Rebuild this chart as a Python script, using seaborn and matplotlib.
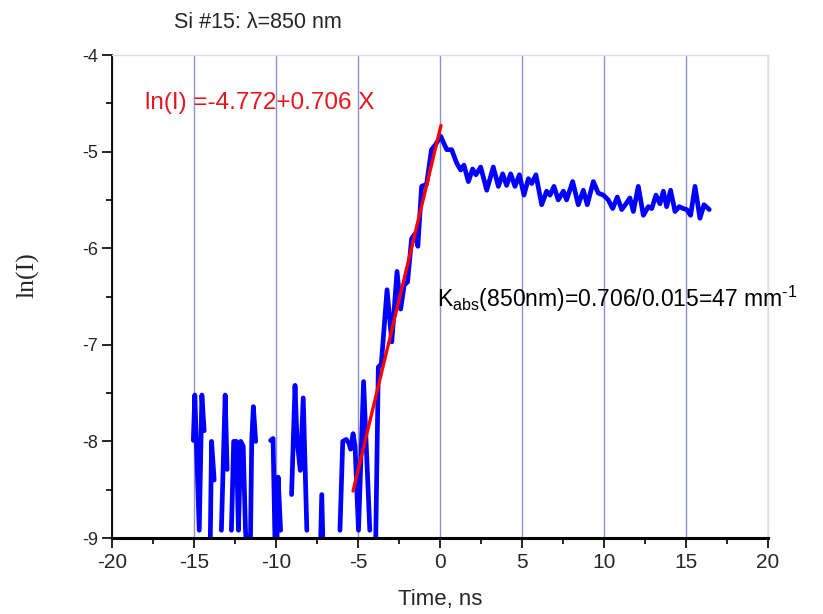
import numpy as np
import pandas as pd
import matplotlib
matplotlib.use("Agg")
import matplotlib.pyplot as plt
from matplotlib.ticker import MultipleLocator
import seaborn as sns

nan = np.nan
# Measured signal (ln of intensity) vs time in ns; NaN marks a break in the trace
time_ns = [
    -15.04, -14.95, -14.68, -14.52, -14.38, nan,
    -14.05, -13.93, -13.77, nan,
    -13.33, -13.10, -12.98, nan,
    -12.72, -12.58, -12.42, -12.29, -12.15, -12.00, -11.86, -11.60, -11.48, -11.38, -11.24, nan,
    -10.33, -10.18, -10.00, -9.87, -9.72, nan,
    -9.05, -8.84, -8.72, -8.52, -8.34, -8.12, nan,
    -7.36, -7.21, -7.06, nan,
    -6.10, -5.93, -5.72, -5.55, -5.45, -5.30, -5.18, -4.97, -4.66, -4.28, nan,
    -3.97, -3.76, -3.58, -3.23, -2.94, -2.62, -2.40, -2.18, -1.98, -1.73, -1.52, -1.35,
    -1.12, -0.82, -0.52, -0.28,
    0.04, 0.41, 0.71, 1.02, 1.26, 1.46, 1.73, 1.99, 2.19, 2.48, 2.85, 3.25, 3.56, 3.82,
    4.06, 4.31, 4.57, 4.84, 5.12, 5.39, 5.59, 5.85, 6.20, 6.50, 6.71, 6.95, 7.21, 7.52,
    7.72, 8.09, 8.43, 8.74, 8.98, 9.35, 9.65, 9.96, 10.26, 10.53, 10.81, 11.08, 11.34,
    11.58, 11.79, 12.09, 12.40, 12.70, 12.91, 13.17, 13.41, 13.62, 13.82, 14.06, 14.33,
    14.59, 14.84, 15.04, 15.28, 15.55, 15.85, 16.10, 16.42,
]
ln_I = [
    -7.99, -7.52, -8.92, -7.52, -7.89, nan,
    -9.60, -8.00, -8.40, nan,
    -8.92, -7.52, -8.29, nan,
    -8.92, -8.00, -8.00, -8.92, -8.00, -8.05, -8.92, -9.60, -8.00, -7.64, -8.00, nan,
    -7.99, -7.97, -9.60, -8.37, -8.92, nan,
    -8.55, -7.42, -7.98, -8.30, -7.55, -8.92, nan,
    -9.60, -8.55, -9.60, nan,
    -8.92, -8.00, -7.98, -8.02, -8.08, -7.92, -8.05, -8.92, -7.38, -8.92, nan,
    -9.60, -7.23, -7.20, -6.43, -6.97, -6.24, -6.63, -6.38, -6.35, -5.90, -5.85, -5.98,
    -5.36, -5.34, -4.98, -4.93,
    -4.84, -4.98, -4.98, -5.12, -5.19, -5.14, -5.31, -5.18, -5.24, -5.16, -5.40, -5.16, -5.36, -5.23,
    -5.35, -5.23, -5.36, -5.24, -5.45, -5.28, -5.33, -5.24, -5.55, -5.41, -5.45, -5.36, -5.50, -5.41,
    -5.50, -5.31, -5.55, -5.40, -5.55, -5.31, -5.43, -5.45, -5.50, -5.59, -5.47, -5.60, -5.54,
    -5.48, -5.62, -5.36, -5.66, -5.57, -5.59, -5.45, -5.54, -5.41, -5.57, -5.40, -5.62,
    -5.57, -5.59, -5.60, -5.66, -5.36, -5.69, -5.55, -5.60,
]

# Linear fit shown on the chart: ln(I) = -4.772 + 0.706 X over the rising edge
fit_intercept = -4.772
fit_slope = 0.706
fit_range = [-5.3, 0.06]

title_text = "Si #15: \u03bb=850 nm"
fit_label = "ln(I) =-4.772+0.706 X"
k_label = r"K$_{\text{abs}}$(850nm)=0.706/0.015=47 mm$^{\text{-1}}$"

# ---- build tables ----
t_arr = np.array(time_ns, dtype=float)
y_arr = np.array(ln_I, dtype=float)
seg = np.cumsum(np.isnan(y_arr))
df = pd.DataFrame({"t": t_arr, "lnI": y_arr, "seg": seg}).dropna()

fit_x = np.array(fit_range)
fit_df = pd.DataFrame({"t": fit_x, "lnI": fit_intercept + fit_slope * fit_x})

sns.set_style("ticks")
plt.rcParams["font.family"] = ["Liberation Sans", "DejaVu Sans"]
plt.rcParams["mathtext.fontset"] = "custom"
plt.rcParams["mathtext.rm"] = "Liberation Sans"
plt.rcParams["mathtext.it"] = "Liberation Sans:italic"

fig = plt.figure(figsize=(8.23, 6.14), dpi=100)
ax = fig.add_axes([112 / 823, 1 - 538 / 614, 656 / 823, 483 / 614])

ax.set_xlim(-20, 20)
ax.set_ylim(-9, -4)

ax.xaxis.set_major_locator(MultipleLocator(5))
ax.xaxis.set_minor_locator(MultipleLocator(2.5))
ax.yaxis.set_major_locator(MultipleLocator(1))
ax.yaxis.set_minor_locator(MultipleLocator(0.5))
ax.grid(True, axis="x", which="major", color="#9090d0", lw=1.0)
ax.set_axisbelow(True)

sns.lineplot(data=df, x="t", y="lnI", units="seg", estimator=None, sort=False,
             color="#0000ff", lw=3.4, ax=ax, legend=False,
             solid_capstyle="round", solid_joinstyle="round")
sns.lineplot(data=fit_df, x="t", y="lnI", estimator=None, sort=False,
             color="#ff0000", lw=2.4, ax=ax, legend=False)

for s in ["top", "right"]:
    ax.spines[s].set_color("#dcdcec")
    ax.spines[s].set_linewidth(1.0)
ax.spines["left"].set_color("black")
ax.spines["left"].set_linewidth(1.3)
ax.spines["bottom"].set_color("black")
ax.spines["bottom"].set_linewidth(2.2)

ax.tick_params(axis="both", which="major", direction="out", length=7, width=1.2, color="black")
ax.tick_params(axis="both", which="minor", direction="out", length=4, width=1.2, color="black")
ax.tick_params(axis="y", labelsize=13, pad=3)
ax.tick_params(axis="x", labelsize=15, pad=4)
ax.set_yticks([-4, -5, -6, -7, -8, -9])
ax.set_yticklabels(["-4", "-5", "-6", "-7", "-8", "-9"])
ax.set_xticks([-20, -15, -10, -5, 0, 5, 10, 15, 20])
ax.set_xticklabels(["-20", "-15", "-10", "-5", "0", "5", "10", "15", "20"])

ax.set_xlabel("Time, ns", fontsize=16)
ax.xaxis.set_label_coords(0.5, -0.105)
ax.set_ylabel("ln(I)", fontsize=18.5, family=["Liberation Serif", "DejaVu Serif"])
ax.yaxis.set_label_coords(-0.11, 0.545)

fig.text(258 / 823, 1 - 22 / 614, title_text, fontsize=15.5, ha="center", va="center")
ax.text(-18.0, -4.5, fit_label, color="#e8141e", fontsize=17.5, ha="left", va="center")
ax.text(-0.2, -6.52, k_label, color="black", fontsize=16.5, ha="left", va="center")

fig.savefig("out.png", dpi=100)
